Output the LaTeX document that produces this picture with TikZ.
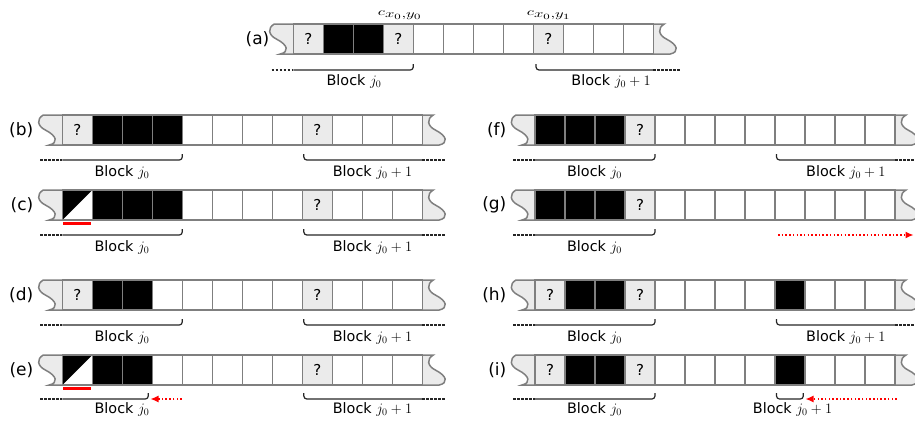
\documentclass[tikz,border=0pt]{standalone}
\usepackage{fontspec}
\setmainfont{DejaVu Sans}
\usetikzlibrary{arrows.meta}
\definecolor{cellgray}{HTML}{EBEBEB}
\definecolor{edgegray}{HTML}{7F7F7F}
\definecolor{markred}{HTML}{FF0000}
\definecolor{braceink}{HTML}{262626}
\tikzset{
  cellbox/.style={draw=edgegray, line width=1.5pt},
  qtext/.style={font=\fontsize{15}{18}\selectfont, inner sep=0pt},
  rowlabel/.style={font=\fontsize{17}{20}\selectfont, anchor=east, inner sep=0pt},
  blocktext/.style={font=\fontsize{14.4}{17}\selectfont, anchor=base, inner sep=0pt},
  clabel/.style={font=\fontsize{10.95}{13}\selectfont, inner sep=0pt},
  braceline/.style={draw=braceink, line width=1.2pt, rounded corners=3pt},
  dashline/.style={draw=braceink, line width=1.2pt, dash pattern=on 2.5pt off 1.5pt},
  redmark/.style={draw=markred, line width=3pt},
  redarrow/.style={draw=markred, line width=1.3pt, dash pattern=on 1.5pt off 2.2pt, -{Latex[length=8pt,width=7pt]}},
}
\newcommand\mkcellw[3]{\draw[cellbox, fill=white] (#1,#2) rectangle ++(30,30);}
\newcommand\mkcellk[3]{\draw[cellbox, fill=black] (#1,#2) rectangle ++(30,30);}
\newcommand\mkcellq[3]{\draw[cellbox, fill=cellgray] (#1,#2) rectangle ++(30,30);
  \node[qtext] (#3) at (#1+15,#2+15) {?};}
\newcommand\mkcellh[3]{\fill[white] (#1,#2) rectangle ++(30,30);
  \fill[black] (#1,#2) -- ++(30,0) -- ++(-30,30) -- cycle;
  \draw[cellbox] (#1,#2) rectangle ++(30,30);}
\newcommand\cellstrip[4]{%
  \draw[cellbox, fill=cellgray] (#2,#3) -- (#2-19,#3) .. controls (#2-26,#3+4) and (#2-25,#3+11) .. (#2-17,#3+15) .. controls (#2-5,#3+21) and (#2-4,#3+28) .. (#2-13,#3+30) -- (#2,#3+30);
  \draw[cellbox, fill=cellgray] (#2+360,#3) -- (#2+371,#3) .. controls (#2+364,#3+4) and (#2+365,#3+11) .. (#2+373,#3+15) .. controls (#2+385,#3+21) and (#2+386,#3+28) .. (#2+377,#3+30) -- (#2+360,#3+30);
  \foreach \t [count=\i from 0] in {#4} {\csname mkcell\t\endcsname{#2+30*\i}{#3}{#1-\i}}
}
\newcommand\bracejz[4]{%
  \draw[dashline] (#4,#2) -- (#1,#2);
  \draw[braceline] (#1,#2) -- (#3,#2) -- (#3,#2-6);
}
\newcommand\bracejo[4]{%
  \draw[braceline] (#1,#2-6) -- (#1,#2) -- (#3,#2);
  \draw[dashline] (#3,#2) -- (#4,#2);
}
\begin{document}
\begin{tikzpicture}[x=1pt,y=-1pt]
\useasboundingbox (0,0) rectangle (915,421);
\clip (0,0) rectangle (915,421);
% (a)
\cellstrip{a}{293.3}{24}{q,k,k,q,w,w,w,w,q,w,w,w}
\node[rowlabel] (la) at (269.5,39) {(a)};
\node[clabel] (c0) at (400,15.5) {\scalebox{1.5}[1]{$c_{\textstyle x_0{,}y_0}$}};
\node[clabel] (c1) at (549,15.5) {\scalebox{1.5}[1]{$c_{\textstyle x_0{,}y_1}$}};
\bracejz{293.3}{70}{413.3}{271.5}
\bracejo{536}{70}{653.3}{680}
\node[blocktext] (ta0) at (354,85) {Block $j_0$};
\node[blocktext] (ta1) at (611,85) {Block $j_0+1$};
% (b)
\cellstrip{b}{62.3}{115}{q,k,k,k,w,w,w,w,q,w,w,w}
\node[rowlabel] (lb) at (33.5,130) {(b)};
\bracejz{62.3}{160}{182.3}{40.3}
\bracejo{303.8}{160}{422.3}{445}
\node[blocktext] (tb0) at (122,176.5) {Block $j_0$};
\node[blocktext] (tb1) at (372.5,176.5) {Block $j_0+1$};
% (c)
\cellstrip{c}{62.3}{190}{h,k,k,k,w,w,w,w,q,w,w,w}
\node[rowlabel] (lc) at (33.5,205) {(c)};
\draw[redmark] (63.3,223) -- (90.7,223);
\bracejz{62.3}{235}{182.3}{40.3}
\bracejo{303.8}{235}{422.3}{445}
\node[blocktext] (tc0) at (122,251) {Block $j_0$};
\node[blocktext] (tc1) at (372.5,251) {Block $j_0+1$};
% (d)
\cellstrip{d}{62.3}{280}{q,k,k,w,w,w,w,w,q,w,w,w}
\node[rowlabel] (ld) at (33.5,295) {(d)};
\bracejz{62.3}{325}{182.3}{40.3}
\bracejo{303.8}{325}{422.3}{445}
\node[blocktext] (td0) at (122,341) {Block $j_0$};
\node[blocktext] (td1) at (372.5,341) {Block $j_0+1$};
% (e)
\cellstrip{e}{62.3}{355}{h,k,k,w,w,w,w,w,q,w,w,w}
\node[rowlabel] (le) at (33.5,370) {(e)};
\draw[redmark] (63.3,388) -- (90.7,388);
\bracejz{62.3}{399}{148.3}{40.3}
\bracejo{303.8}{399}{422.3}{445}
\coordinate (eas) at (181.7,399);
\coordinate (eat) at (150.5,399);
\draw[redarrow] (eas) -- (eat);
\node[blocktext] (te0) at (122,413.3) {Block $j_0$};
\node[blocktext] (te1) at (372.5,413.3) {Block $j_0+1$};
% (f)
\cellstrip{f}{535}{115}{k,k,k,q,w,w,w,w,w,w,w,w}
\node[rowlabel] (lf) at (506.5,130) {(f)};
\bracejz{535}{160}{655}{513}
\bracejo{776.5}{160}{895}{918}
\node[blocktext] (tf0) at (594.5,176.5) {Block $j_0$};
\node[blocktext] (tf1) at (845.8,176.5) {Block $j_0+1$};
% (g)
\cellstrip{g}{535}{190}{k,k,k,q,w,w,w,w,w,w,w,w}
\node[rowlabel] (lg) at (506.5,205) {(g)};
\bracejz{535}{235}{655}{513}
\coordinate (gas) at (778,235);
\coordinate (gat) at (913.5,235);
\draw[redarrow] (gas) -- (gat);
\node[blocktext] (tg0) at (594.5,251) {Block $j_0$};
% (h)
\cellstrip{h}{535}{280}{q,k,k,q,w,w,w,w,k,w,w,w}
\node[rowlabel] (lh) at (506.5,295) {(h)};
\bracejz{535}{325}{655}{513}
\bracejo{776.5}{325}{895}{918}
\node[blocktext] (th0) at (594.5,341) {Block $j_0$};
\node[blocktext] (th1) at (845.8,341) {Block $j_0+1$};
% (i)
\cellstrip{i}{535}{355}{q,k,k,q,w,w,w,w,k,w,w,w}
\node[rowlabel] (li) at (506.5,370) {(i)};
\bracejz{535}{399}{655}{513}
\draw[braceline] (776.5,393) -- (776.5,399) -- (803.3,399) -- (803.3,393);
\coordinate (ias) at (896.7,399);
\coordinate (iat) at (805.5,399);
\draw[redarrow] (ias) -- (iat);
\node[blocktext] (ti0) at (594.5,413.3) {Block $j_0$};
\node[blocktext] (ti1) at (792.5,413.3) {Block $j_0+1$};
\end{tikzpicture}
\end{document}
